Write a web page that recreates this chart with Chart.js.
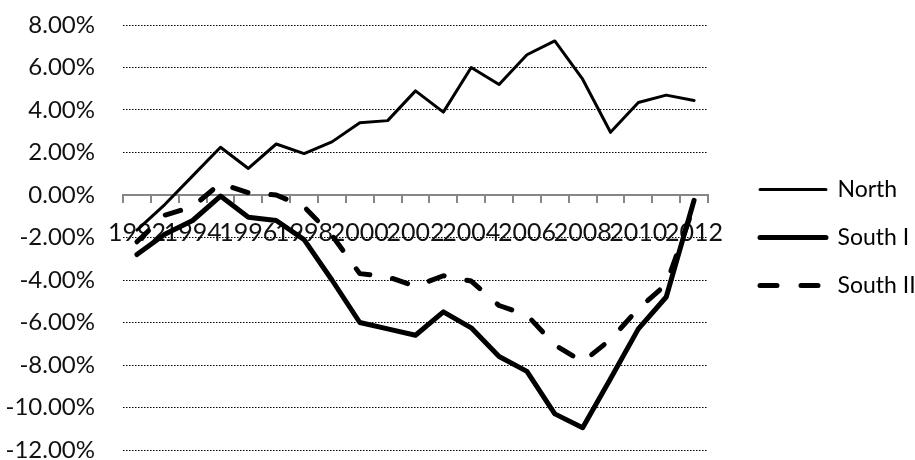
<!DOCTYPE html>
<html>
<head>
<meta charset="utf-8">
<script src="https://cdn.jsdelivr.net/npm/chart.js@4"></script>
<style>
  html, body { margin: 0; padding: 0; background: #fff; }
</style>
</head>
<body>
<canvas id="chart" width="915" height="460"></canvas>
<script>
// Chart data (percent)
const years = ['1992','1993','1994','1995','1996','1997','1998','1999','2000','2001','2002',
               '2003','2004','2005','2006','2007','2008','2009','2010','2011','2012'];
const north   = [-1.65, -0.45, 0.9, 2.25, 1.25, 2.4, 1.95, 2.5, 3.4, 3.5, 4.9,
                 3.9, 6.0, 5.2, 6.6, 7.25, 5.45, 2.95, 4.35, 4.7, 4.45];
const southI  = [-2.8, -1.85, -1.2, -0.05, -1.05, -1.2, -2.1, -4.0, -6.0, -6.3, -6.6,
                 -5.5, -6.25, -7.6, -8.3, -10.3, -10.95, -8.65, -6.3, -4.8, -0.25];
const southII = [-2.2, -0.95, -0.55, 0.55, 0.1, 0.0, -0.55, -1.9, -3.7, -3.85, -4.3,
                 -3.8, -4.05, -5.2, -5.65, -7.05, -7.85, -6.8, -5.35, -4.2, -0.5];
const seriesNames = ['North', 'South I', 'South II'];
const yMin = -12, yMax = 8, yStep = 2;

Chart.defaults.font.family = 'Lato';
Chart.defaults.font.size = 23;
Chart.defaults.color = '#111';

const dashII = [16, 23];

const ctx = document.getElementById('chart').getContext('2d');
new Chart(ctx, {
    type: 'line',
    data: {
        labels: years,
        datasets: [
            {label: seriesNames[0], data: north, borderColor: '#000', backgroundColor: '#000', borderWidth: 3},
            {label: seriesNames[1], data: southI, borderColor: '#000', backgroundColor: '#000', borderWidth: 5},
            {label: seriesNames[2], data: southII, borderColor: '#000', backgroundColor: '#000', borderWidth: 5, borderDash: dashII}
        ]
    },
    options: {
        responsive: false,
        animation: false,
        layout: {padding: {top: 25, bottom: 10, left: 0, right: 0}},
        elements: {
            line: {tension: 0, fill: false, borderCapStyle: 'round', borderJoinStyle: 'round'},
            point: {radius: 0, hoverRadius: 0}
        },
        scales: {
            x: {
                type: 'category',
                position: {y: 0},
                offset: true,
                grid: {offset: true, drawOnChartArea: false, drawTicks: true, tickLength: 7, color: '#868686', lineWidth: 2},
                border: {display: true, color: '#868686', width: 2},
                ticks: {
                    autoSkip: false, maxRotation: 0, padding: 16, color: '#111', font: {size: 25},
                    callback: (v, i) => i % 2 === 0 ? years[i] : ''
                },
                afterFit: s => { s.height = 0; }
            },
            y: {
                min: yMin, max: yMax,
                grid: {color: '#000', lineWidth: 1, drawTicks: false},
                border: {display: false, dash: [1.5, 1.5]},
                ticks: {stepSize: yStep, padding: 28, color: '#111', font: {size: 24}, callback: v => v.toFixed(2) + '%'},
                afterFit: s => { s.width = 123; s.paddingTop = 0; s.paddingBottom = 0; }
            },
            gap: {
                type: 'linear', position: 'right', display: true,
                grid: {display: false}, border: {display: false}, ticks: {display: false},
                afterFit: s => { s.width = 27; s.paddingTop = 0; s.paddingBottom = 0; }
            }
        },
        plugins: {
            tooltip: {enabled: false},
            legend: {
                position: 'right',
                align: 'center',
                maxWidth: 180,
                labels: {
                    boxWidth: 66, boxHeight: 0, padding: 25, color: '#000',
                    generateLabels: chart => {
                        const items = Chart.defaults.plugins.legend.labels.generateLabels(chart);
                        items.forEach(it => {
                            it.lineCap = 'round';
                            it.lineJoin = 'round';
                            if (it.lineDash && it.lineDash.length) it.lineDash = [17, 24, 17, 300];
                        });
                        return items;
                    }
                }
            }
        }
    }
});
</script>
</body>
</html>
